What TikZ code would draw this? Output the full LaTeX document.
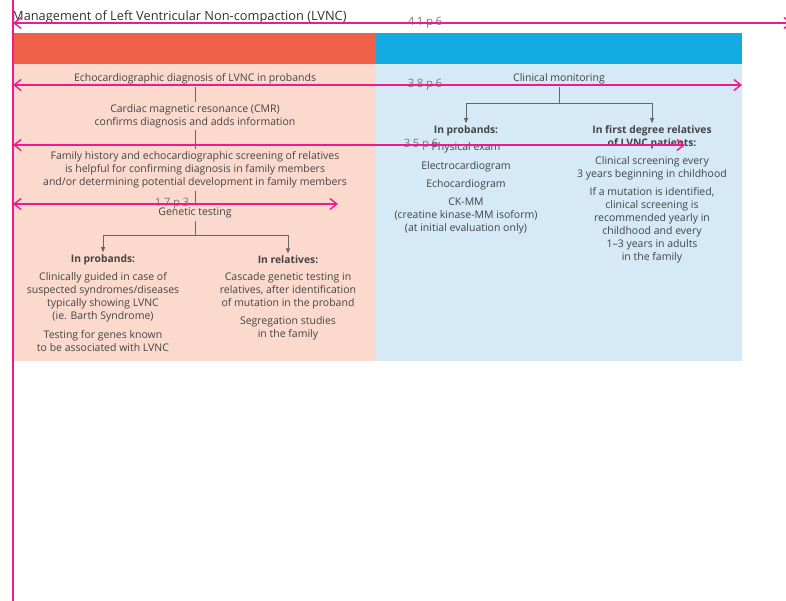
\documentclass[tikz,border=0pt]{standalone}
\usepackage{fontspec}
\setmainfont{Open Sans}
\usetikzlibrary{arrows.meta}
\definecolor{txt}{HTML}{444444}
\definecolor{ttl}{HTML}{333333}
\definecolor{hdred}{HTML}{F05F48}
\definecolor{hdblue}{HTML}{12ACE2}
\definecolor{pnred}{HTML}{FBD9CD}
\definecolor{pnblue}{HTML}{D5E9F7}
\definecolor{mag}{HTML}{EC1C8C}
\definecolor{conn}{HTML}{666666}
\definecolor{dimtxt}{HTML}{7A7A7A}
\tikzset{
  body/.style={align=center, text=txt, inner sep=2.5pt, font=\fontsize{10.5}{13}\selectfont},
  bodyb/.style={body, font=\fontsize{10.3}{13}\selectfont\bfseries},
  link/.style={draw=conn, line width=0.7pt},
  linkarrow/.style={link, -{Triangle[length=5pt,width=4pt]}},
  dimline/.style={draw=mag, line width=1.4pt, {Straight Barb[length=7pt,width=11pt]}-{Straight Barb[length=7pt,width=11pt]}},
  dimlabel/.style={text=dimtxt, inner sep=0pt, font=\fontsize{11.5}{12}\selectfont\addfontfeatures{LetterSpace=22}}
}
\begin{document}
\begin{tikzpicture}[x=1pt,y=-1pt]
\useasboundingbox[fill=white] (0,0) rectangle (786,601);
% panels
\fill[hdred] (13,33) rectangle (376,64);
\fill[hdblue] (376,33) rectangle (742,64);
\fill[pnred] (13,64) rectangle (376,361);
\fill[pnblue] (376,64) rectangle (742,361);
% title
\node[anchor=base west, inner sep=0pt, text=ttl, font=\fontsize{12.8}{14}\selectfont] (title) at (12,20.5) {Management of Left Ventricular Non-compaction (LVNC)};
% dimension labels
\node[dimlabel] (d1) at (425,23) {41p6};
\node[dimlabel] (d2) at (425,85) {38p6};
\node[dimlabel] (d3) at (421,145) {35p6};
\node[dimlabel] (d4) at (172,204) {17p3};
% left column
\node[body] (echo) at (195,79) {Echocardiographic diagnosis of LVNC in probands};
\node[body] (cmr) at (195,116) {Cardiac magnetic resonance (CMR)\\confirms diagnosis and adds information};
\node[body] (fam) at (195,170) {Family history and echocardiographic screening of relatives\\is helpful for confirming diagnosis in family members\\and/or determining potential development in family members};
\node[body] (gen) at (195,213) {Genetic testing};
\node[bodyb] (lp) at (103,260) {In probands:};
\node[body] (lp1) at (103,297) {Clinically guided in case of\\suspected syndromes/diseases\\typically showing LVNC\\(ie. Barth Syndrome)};
\node[body] (lp2) at (103,341.5) {Testing for genes known\\to be associated with LVNC};
\node[bodyb] (lr) at (288,260) {In relatives:};
\node[body] (lr1) at (288,291) {Cascade genetic testing in\\relatives, after identification\\of mutation in the proband};
\node[body] (lr2) at (288,328.5) {Segregation studies\\in the family};
\coordinate (gj) at (195,235);
\draw[link] (echo.south) -- (cmr.north);
\draw[link] (cmr.south) -- (fam.north);
\draw[link] (fam.south) -- (gen.north);
\draw[link] (gen.south) -- (gj);
\draw[linkarrow] (gj) -| (lp.north);
\draw[linkarrow] (gj) -| (lr.north);
% right column
\node[body] (cm) at (559,79) {Clinical monitoring};
\coordinate (cj) at (559,103);
\node[bodyb] (rp) at (466,131) {In probands:};
\node[body] (rp1) at (466,148) {Physical exam};
\node[body] (rp2) at (466,167) {Electrocardiogram};
\node[body] (rp3) at (466,185) {Echocardiogram};
\node[body] (rp4) at (466,215.5) {CK-MM\\(creatine kinase-MM isoform)\\(at initial evaluation only)};
\node[bodyb] (rr) at (652,137.5) {In first degree relatives\\of LVNC patients:};
\node[body] (rr1) at (652,168.5) {Clinical screening every\\3 years beginning in childhood};
\node[body] (rr2) at (652,225.5) {If a mutation is identified,\\clinical screening is\\recommended yearly in\\childhood and every\\1–3 years in adults\\in the family};
\draw[link] (cm.south) -- (cj);
\draw[linkarrow] (cj) -| (rp.north);
\draw[linkarrow] (cj) -| (rr.north);
% magenta dimension lines
\coordinate (v0) at (13,0);
\coordinate (v1) at (13,601);
\draw[draw=mag, line width=1.6pt] (v0) -- (v1);
\coordinate (a1) at (13,23); \coordinate (b1) at (792,23);
\coordinate (a2) at (13,85); \coordinate (b2) at (742,85);
\coordinate (a3) at (13,145); \coordinate (b3) at (685,145);
\coordinate (a4) at (13,204); \coordinate (b4) at (338,204);
\draw[dimline] (a1) -- (b1);
\draw[dimline] (a2) -- (b2);
\draw[dimline] (a3) -- (b3);
\draw[dimline] (a4) -- (b4);
\end{tikzpicture}
\end{document}
